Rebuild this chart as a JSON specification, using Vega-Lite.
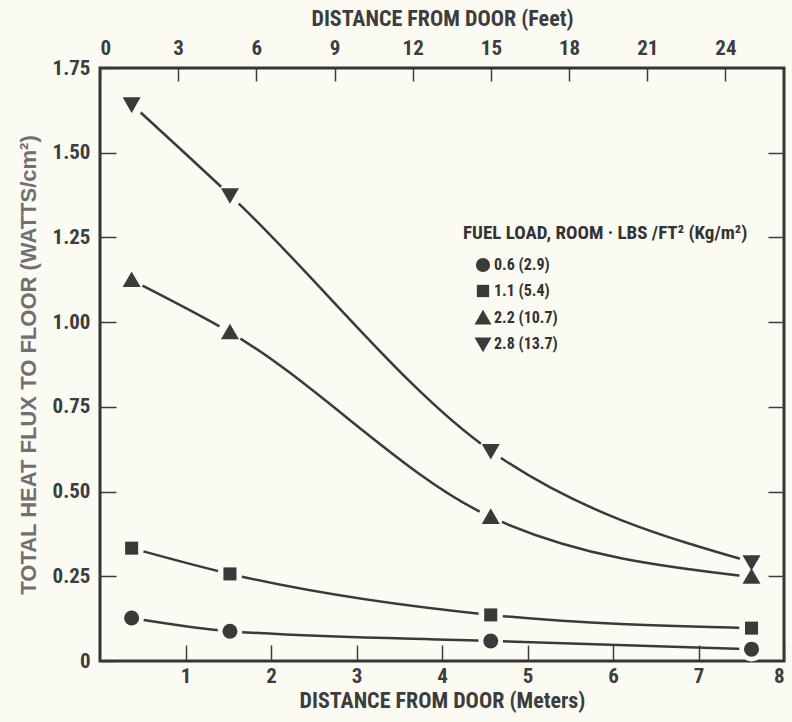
{
  "$schema": "https://vega.github.io/schema/vega-lite/v6.json",
  "width": 684,
  "height": 593,
  "autosize": {"type": "none"},
  "padding": {"left": 100, "top": 68, "right": 8, "bottom": 61},
  "background": "#fbfbf4",
  "config": {
    "view": {"stroke": "#333333", "strokeWidth": 3},
    "font": "Roboto Condensed, Liberation Sans, Arial, sans-serif",
    "axis": {
      "domain": false,
      "grid": false,
      "labelFont": "Roboto Condensed, Liberation Sans, Arial, sans-serif",
      "titleFont": "Roboto Condensed, Liberation Sans, Arial, sans-serif",
      "labelFontWeight": "bold",
      "titleFontWeight": "bold",
      "labelColor": "#3d3d3d",
      "titleColor": "#3d3d3d",
      "tickColor": "#3d3d3d",
      "tickWidth": 1.5,
      "labelFontSize": 21,
      "titleFontSize": 22
    },
    "legend": {
      "labelFont": "Roboto Condensed, Liberation Sans, Arial, sans-serif",
      "titleFont": "Roboto Condensed, Liberation Sans, Arial, sans-serif"
    }
  },
  "data": {
    "values": [
      {"load": "0.6 (2.9)", "m": 0.37, "flux": 0.127},
      {"load": "0.6 (2.9)", "m": 1.52, "flux": 0.088},
      {"load": "0.6 (2.9)", "m": 4.57, "flux": 0.059},
      {"load": "0.6 (2.9)", "m": 7.62, "flux": 0.035},
      {"load": "1.1 (5.4)", "m": 0.37, "flux": 0.333},
      {"load": "1.1 (5.4)", "m": 1.52, "flux": 0.257},
      {"load": "1.1 (5.4)", "m": 4.57, "flux": 0.136},
      {"load": "1.1 (5.4)", "m": 7.62, "flux": 0.097},
      {"load": "2.2 (10.7)", "m": 0.37, "flux": 1.124},
      {"load": "2.2 (10.7)", "m": 1.52, "flux": 0.97},
      {"load": "2.2 (10.7)", "m": 4.57, "flux": 0.425},
      {"load": "2.2 (10.7)", "m": 7.62, "flux": 0.248},
      {"load": "2.8 (13.7)", "m": 0.37, "flux": 1.643},
      {"load": "2.8 (13.7)", "m": 1.52, "flux": 1.375},
      {"load": "2.8 (13.7)", "m": 4.57, "flux": 0.62},
      {"load": "2.8 (13.7)", "m": 7.62, "flux": 0.292}
    ]
  },
  "resolve": {"axis": {"x": "independent", "y": "independent"}},
  "layer": [
    {
      "mark": {"type": "line", "interpolate": "monotone", "color": "#3a3a3a", "strokeWidth": 2.5},
      "encoding": {
        "x": {
          "field": "m", "type": "quantitative",
          "scale": {"domain": [0, 8], "nice": false, "zero": false},
          "axis": {
            "orient": "bottom",
            "title": "DISTANCE FROM DOOR (Meters)",
            "values": [1, 2, 3, 4, 5, 6, 7, 8],
            "format": "d",
            "tickSize": -16,
            "labelPadding": 20,
            "titlePadding": 4
          }
        },
        "y": {
          "field": "flux", "type": "quantitative",
          "scale": {"domain": [0, 1.75], "nice": false},
          "axis": {
            "orient": "left",
            "title": "TOTAL HEAT FLUX TO FLOOR (WATTS/cm²)",
            "titleColor": "#707070",
            "titleFont": "Liberation Sans, Arial, sans-serif",
            "titleFontSize": 22,
            "values": [0, 0.25, 0.5, 0.75, 1, 1.25, 1.5, 1.75],
            "labelExpr": "datum.value == 0 ? '0' : format(datum.value, '.2f')",
            "tickSize": -16,
            "labelPadding": 26,
            "titlePadding": 12
          }
        },
        "detail": {"field": "load"}
      }
    },
    {
      "mark": {"type": "point", "filled": true, "shape": "circle", "color": "#fbfbf4", "opacity": 1, "size": 600},
      "encoding": {
        "x": {
          "field": "m", "type": "quantitative",
          "scale": {"domain": [0, 8], "nice": false, "zero": false},
          "axis": {
            "orient": "top",
            "title": "DISTANCE FROM DOOR (Feet)",
            "values": [0, 0.9144, 1.8288, 2.7432, 3.6576, 4.572, 5.4864, 6.4008, 7.3152],
            "labelExpr": "format(round(datum.value / 0.3048), 'd')",
            "tickSize": -13,
            "labelPadding": 23,
            "titlePadding": 7
          }
        },
        "y": {
          "field": "flux", "type": "quantitative",
          "scale": {"domain": [0, 1.75], "nice": false},
          "axis": {
            "orient": "right",
            "title": null,
            "labels": false,
            "values": [0.25, 0.5, 0.75, 1, 1.25, 1.5],
            "tickSize": -16
          }
        }
      }
    },
    {
      "mark": {"type": "point", "filled": true, "color": "#3a3a3a", "opacity": 1, "size": 225},
      "encoding": {
        "x": {"field": "m", "type": "quantitative", "scale": {"domain": [0, 8], "nice": false, "zero": false}, "axis": null},
        "y": {"field": "flux", "type": "quantitative", "scale": {"domain": [0, 1.75], "nice": false}, "axis": null},
        "shape": {
          "field": "load", "type": "nominal",
          "scale": {
            "domain": ["0.6 (2.9)", "1.1 (5.4)", "2.2 (10.7)", "2.8 (13.7)"],
            "range": ["circle", "M-0.87,-0.87L0.87,-0.87L0.87,0.87L-0.87,0.87Z", "M0,-1.15L1.2,0.92L-1.2,0.92Z", "M0,1.15L1.2,-0.92L-1.2,-0.92Z"]
          },
          "legend": {
            "orient": "none",
            "legendX": 363,
            "legendY": 156,
            "title": "FUEL LOAD, ROOM · LBS /FT² (Kg/m²)",
            "titleFontSize": 19,
            "titleFontWeight": "bold",
            "titleColor": "#333333",
            "titleLimit": 500,
            "titlePadding": 14,
            "labelFontSize": 16,
            "labelFontWeight": "bold",
            "labelColor": "#333333",
            "labelOffset": 3,
            "symbolSize": 200,
            "symbolOffset": 12,
            "symbolFillColor": "#3a3a3a",
            "symbolStrokeColor": "#3a3a3a",
            "symbolStrokeWidth": 0,
            "symbolOpacity": 1,
            "rowPadding": 10,
            "offset": 0,
            "padding": 0
          }
        }
      }
    }
  ]
}
